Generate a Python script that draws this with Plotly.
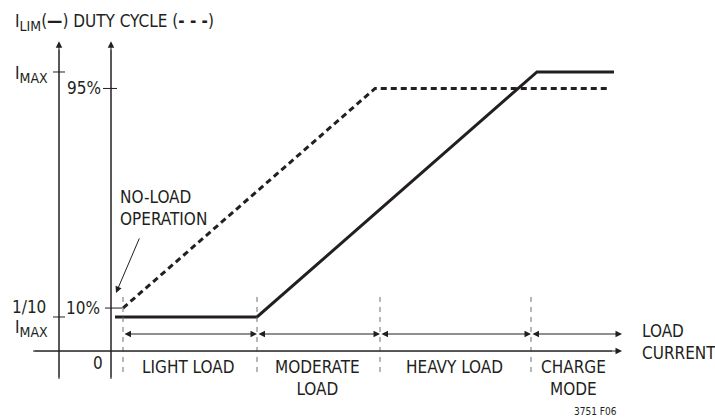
import plotly.graph_objects as go

# ---- schematic data (x: load current, arbitrary units; y: level, I_MAX = 100) ----
region_edges = [2.4, 29.2, 53.8, 84.0]          # no-load, moderate, heavy, charge
region_end = 102.2
region_labels = ["LIGHT LOAD", "MODERATE<br>LOAD", "HEAVY LOAD", "CHARGE<br>MODE"]

ilim_x = [0.8, 29.2, 85.2, 100.6]
ilim_y = [12.2, 12.2, 100.0, 100.0]

duty_x = [2.4, 52.8, 99.8]
duty_y = [15.4, 94.1, 94.1]

ilim_ticks = [100.0, 12.2]
ilim_tick_labels = ["I<sub><span style='font-size:14px'>MAX</span></sub>", "1/10"]
duty_ticks = [94.1, 15.4]
duty_tick_labels = ["95%", "10%"]

# ---- geometry ----
AX_I = -10.4      # I_LIM axis x
AX_D = 0.0        # duty axis x
Y_BOT = -10.0
Y_TOP = 111.0
X_LEFT = -15.6
ARROW_Y = 6.1
VL_TOP, VL_BOT = 21.1, -7.5

FONT = "Liberation Sans Narrow, Arial Narrow, DejaVu Sans Condensed, Roboto Condensed, sans-serif"
FS = 17
INK = "#231f20"
SUB = "<sub><span style='font-size:14px'>{}</span></sub>"

fig = go.Figure()

fig.add_trace(go.Scatter(x=ilim_x, y=ilim_y, mode="lines",
                         line=dict(color=INK, width=3), hoverinfo="skip"))
fig.add_trace(go.Scatter(x=duty_x, y=duty_y, mode="lines",
                         line=dict(color=INK, width=3, dash="6px,4px"), hoverinfo="skip"))

shapes = []
def seg(x0, y0, x1, y1, color=INK, width=1, dash=None):
    ln = dict(color=color, width=width)
    if dash:
        ln["dash"] = dash
    shapes.append(dict(type="line", xref="x", yref="y", x0=x0, x1=x1, y0=y0, y1=y1, line=ln))

# vertical axes
seg(AX_I, Y_BOT, AX_I, Y_TOP - 3)
seg(AX_D, Y_BOT, AX_D, Y_TOP - 3, color="#6d6e71", width=1.5)
# horizontal axis
seg(X_LEFT, 0, region_end - 2, 0)
# ticks
seg(AX_I - 1.2, ilim_ticks[0], AX_I + 1.2, ilim_ticks[0])
seg(AX_I - 1.2, ilim_ticks[1], AX_I + 1.2, ilim_ticks[1])
seg(AX_D - 1.6, duty_ticks[0], AX_D + 1.2, duty_ticks[0])
seg(AX_D - 1.2, duty_ticks[1], duty_x[0] - 0.2, duty_ticks[1])
# region dividers
for xe in region_edges:
    seg(xe, VL_BOT, xe, VL_TOP, color="#6d6e71", width=1, dash="5px,5px")

ann = []
def arrow(x, y, ax, ay, both=False):
    ann.append(dict(x=x, y=y, ax=ax, ay=ay, xref="x", yref="y", axref="x", ayref="y",
                    text="", showarrow=True, arrowhead=2, arrowsize=1.3, arrowwidth=1,
                    arrowcolor=INK, arrowside="end+start" if both else "end",
                    startarrowhead=2, startarrowsize=1.3, standoff=0, startstandoff=0))

arrow(AX_I, Y_TOP, AX_I, Y_BOT)
arrow(AX_D, Y_TOP, AX_D, Y_BOT)
arrow(region_end, 0, X_LEFT, 0)
edges = region_edges + [region_end]
for i in range(4):
    arrow(edges[i + 1], ARROW_Y, edges[i], ARROW_Y, both=True)
arrow(1.0, 20.8, 5.8, 40.9)

def text(x, y, s, xa="center", ya="middle", size=FS, align="center"):
    ann.append(dict(x=x, y=y, xref="x", yref="y", text=s, showarrow=False,
                    xanchor=xa, yanchor=ya, align=align,
                    font=dict(family=FONT, size=size, color=INK)))

text(-19.6, 117.8, "I" + SUB.format("LIM") + "(<b>—</b>) DUTY CYCLE (<b>- - -</b>)", xa="left")
text(-19.6, 99.0, ilim_tick_labels[0], xa="left")
text(-1.6, duty_ticks[0], duty_tick_labels[0], xa="right")
text(-12.6, 15.8, ilim_tick_labels[1], xa="right")
text(-19.6, 8.0, "I" + SUB.format("MAX"), xa="left")
text(-1.8, duty_ticks[1], duty_tick_labels[1], xa="right")
text(-1.2, -4.3, "0", xa="right")
text(1.4, 51.3, "NO-LOAD<br>OPERATION", xa="left", align="left")

label_x = [15.3, 41.3, 68.6, 92.4]
for lx, lab in zip(label_x, region_labels):
    text(lx, -1.5, lab, ya="top")
text(105.8, 3.4, "LOAD<br>CURRENT", xa="left", align="left")
text(96.8, -21.6, "3751 F06", size=10)

fig.update_layout(
    width=715, height=418, margin=dict(l=0, r=0, t=0, b=0),
    paper_bgcolor="white", plot_bgcolor="white", showlegend=False,
    xaxis=dict(visible=False, range=[-22.2, 120.8], fixedrange=True),
    yaxis=dict(visible=False, range=[-24.0, 125.8], fixedrange=True),
    shapes=shapes, annotations=ann,
)
fig.write_html("out.html", config={"displayModeBar": False},
               post_script="document.body.style.margin='0';document.body.style.overflow='hidden';")
